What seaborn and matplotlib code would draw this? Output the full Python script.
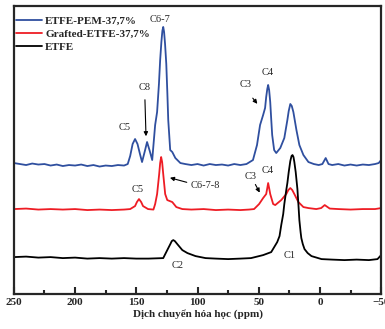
""" Recreate 13C NMR spectra chart (ETFE, grafted ETFE, ETFE-PEM). """

import numpy as np
import pandas as pd
import seaborn as sns
import matplotlib.pyplot as plt

# Data (ppm, relative intensity with vertical offset)
pem_ppm = [250, 245, 240, 235, 230, 225, 220, 215, 210, 205, 200, 195, 190, 185,
           180, 175, 170, 165, 160, 157, 155, 153, 151, 149, 147, 145.3, 143, 141.2,
           139, 137, 134.6, 133, 131.5, 130.5, 129.5, 128.7, 128, 127.3, 126.5,
           125.5, 124.6, 123.9, 122.3, 120.6, 118.1, 114,
           110, 105, 100, 95, 90, 85, 80, 75, 70, 65, 60, 54.7, 51.4, 48.9, 46.4,
           44.8, 43.9, 43, 42.3, 41.5, 40.6, 39.8, 39.0, 37.4, 35.7, 32.4, 29.1,
           26.6, 25.5, 24.2, 23, 21.7, 19.2, 16.8, 13.5, 9.4, 5, 1, -2, -4.7, -7,
           -10, -15, -20, -25, -30, -35, -40, -45, -48, -50]
pem_int = [131, 130, 129, 130.5, 129.5, 130, 128.5, 129.5, 128, 129, 128.5, 129.5,
           128, 129, 127.5, 128.5, 128, 129, 128.5, 130, 138, 150, 155, 150, 140, 132,
           143, 152, 143, 134, 169, 182, 210, 234, 252, 263, 267, 262, 250,
           230, 200, 174, 144, 142, 136, 131,
           130, 129, 130, 128.5, 130, 129, 129.5, 128.5, 130, 129, 130, 134, 149, 169,
           179, 186, 197, 205, 209, 204, 192, 175, 159, 144, 141, 146, 156,
           174, 183, 190, 188, 182, 164, 149, 139, 132, 130, 129, 130, 136, 130,
           129, 130, 128.5, 129.5, 128.5, 129.5, 129, 130, 131, 134]

grafted_ppm = [250, 240, 230, 220, 210, 200, 190, 180, 170, 160, 155, 151, 149.5,
               147.8, 146, 144.5, 140.4, 136, 134.6, 133, 131.3, 130.5, 129.7, 128.9,
               128, 126.4, 124.7, 120.6, 117.3, 112.4, 105, 95, 85, 75, 65, 58, 53.8,
               49.7, 46.4, 43.9, 43, 42.3, 41.5, 40.6, 38.2, 36.5, 31.6, 27.5, 25.8,
               24.2, 22.6, 20.9, 17.6, 13.5, 9.4, 3, -1, -3.9, -8, -15, -25, -35, -45,
               -50]
grafted_int = [85, 85.5, 84.5, 85, 84.5, 85, 84, 84.5, 84, 84.5, 85, 88, 92,
               95, 92, 88, 85, 84.5, 90, 100, 120, 131, 137, 132,
               120, 100, 94, 92, 87, 85, 84.5, 85, 84, 84.5, 84, 84.5, 85,
               90, 96, 100, 106, 111, 106, 100, 90, 89, 94, 100, 104,
               106, 104, 100, 92, 87, 86, 85, 86, 89, 85.5, 85, 84.5, 85, 85,
               86]

etfe_ppm = [250, 240, 230, 220, 210, 200, 190, 180, 170, 160, 150, 140, 128, 124.7,
            122.2, 121, 119.8, 118.5, 116.5, 112.4, 108.2, 101.6, 93.4, 85, 75, 65,
            56.3, 46.4, 39.8, 34.9, 33, 31.6, 30, 29.1, 27.5, 26.6, 25.5, 24.2, 23.2,
            22.4, 21.6, 20.9, 19.8, 18.4, 17.5, 16.8, 15.8, 15.2, 14, 12.6, 10, 6.9,
            -1.3, -10, -20, -30, -40, -47, -50]
etfe_int = [37, 37.5, 36.5, 37, 36, 36.5, 35.5, 36, 35.5, 36, 35.5, 35.5, 36, 44,
            50, 53, 54, 53, 50, 44, 41, 38, 36, 35.5, 35, 35.5,
            36, 39, 42, 52, 58, 69, 80, 90, 104, 111, 122, 133, 138,
            139, 137, 132, 122, 105, 88, 74, 62, 56, 50, 45, 41, 38,
            35, 34.5, 34, 34.5, 34, 35, 39]

series_names = ["ETFE-PEM-37,7%", "Grafted-ETFE-37,7%", "ETFE"]
series_colors = ["#2f4f9f", "#ee1c24", "black"]


def main() -> None:
    """ Main function. """

    df = pd.concat([
        pd.DataFrame({"ppm": pem_ppm, "I": pem_int, "s": series_names[0]}),
        pd.DataFrame({"ppm": grafted_ppm, "I": grafted_int, "s": series_names[1]}),
        pd.DataFrame({"ppm": etfe_ppm, "I": etfe_int, "s": series_names[2]}),
    ])

    sns.set_style("ticks")
    plt.rcParams["font.family"] = ["Liberation Serif", "DejaVu Serif"]

    fig = plt.figure(figsize=(3.85, 3.29), dpi=100)
    ax = fig.add_axes([0.036, 0.106, 0.954, 0.876])

    sns.lineplot(data=df, x="ppm", y="I", hue="s", palette=series_colors,
                 hue_order=series_names, sort=False, estimator=None,
                 linewidth=1.3, ax=ax)

    ax.set_xlim(250, -50)
    ax.set_ylim(0, 288)
    ax.set_xticks([250, 200, 150, 100, 50, 0, -50])
    ax.set_xticks([225, 175, 125, 75, 25, -25], minor=True)
    ax.set_yticks([])
    ax.tick_params(axis="x", which="major", direction="in", length=5, width=1.5,
                   pad=3, labelsize=8)
    ax.tick_params(axis="x", which="minor", direction="in", length=3, width=1.5)
    for lab in ax.get_xticklabels():
        lab.set_fontweight("bold")
    for sp in ax.spines.values():
        sp.set_linewidth(1.6)
    ax.set_xlabel("Dịch chuyển hóa học (ppm)", fontsize=8, fontweight="bold",
                  labelpad=1)
    ax.set_ylabel("")

    # Peak labels
    fs = 7.5
    arrow = dict(arrowstyle="-|>", color="black", lw=0.8, mutation_scale=6)
    ax.text(130.5, 274, "C6-7", fontsize=fs, ha="center", va="center")
    ax.text(143.5, 206, "C8", fontsize=fs, ha="center", va="center")
    ax.annotate("", xy=(142, 155), xytext=(143, 197), arrowprops=arrow)
    ax.text(159.3, 167, "C5", fontsize=fs, ha="center", va="center")
    ax.text(60.4, 209, "C3", fontsize=fs, ha="center", va="center")
    ax.annotate("", xy=(49.7, 188), xytext=(56.3, 198), arrowprops=arrow)
    ax.text(42.3, 221, "C4", fontsize=fs, ha="center", va="center")

    ax.text(148.6, 105, "C5", fontsize=fs, ha="center", va="center")
    ax.text(105.8, 109, "C6-7-8", fontsize=fs, ha="left", va="center")
    ax.annotate("", xy=(124.7, 117), xytext=(106.6, 111), arrowprops=arrow)
    ax.text(56.3, 118, "C3", fontsize=fs, ha="center", va="center")
    ax.annotate("", xy=(48.1, 99), xytext=(53.8, 112), arrowprops=arrow)
    ax.text(42.3, 124, "C4", fontsize=fs, ha="center", va="center")

    ax.text(116.5, 29, "C2", fontsize=fs, ha="center", va="center")
    ax.text(25, 39, "C1", fontsize=fs, ha="center", va="center")

    ax.legend(loc="upper left", bbox_to_anchor=(0.005, 0.965), frameon=False,
              borderpad=0, borderaxespad=0, handlelength=2.35, handletextpad=0.3,
              labelspacing=0.3, prop={"weight": "bold", "size": 8})

    fig.savefig("out.png", dpi=100)


if __name__ == "__main__":
    main()
